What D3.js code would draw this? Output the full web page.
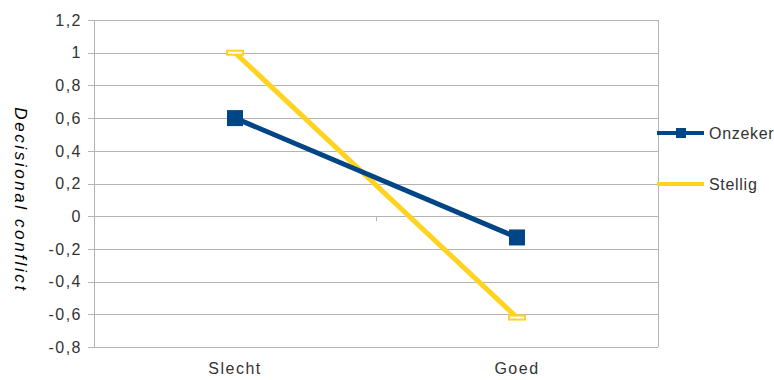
<!DOCTYPE html>
<html>
<head>
<meta charset="utf-8">
<script src="https://cdn.jsdelivr.net/npm/d3@7"></script>
<style>
  body { margin: 0; background: #fff; }
  svg { display: block; font-family: 'Liberation Sans', Arial, sans-serif; }
</style>
</head>
<body>
<div id="chart"></div>
<script>
const categories = ["Slecht", "Goed"]
const onzeker = [0.6, -0.13]
const stellig = [1.0, -0.62]
const yTicks = [-0.8, -0.6, -0.4, -0.2, 0, 0.2, 0.4, 0.6, 0.8, 1, 1.2]

const width = 774, height = 380
const margin = { top: 20, right: 116, bottom: 33, left: 94 }

const svg = d3.select("#chart").append("svg")
  .attr("width", width)
  .attr("height", height)

const x = d3.scaleBand()
  .domain(categories)
  .range([margin.left, width - margin.right])

const y = d3.scaleLinear()
  .domain([-0.8, 1.2])
  .range([height - margin.bottom, margin.top])

const fmt = d => d3.format(".1f")(d).replace(/\.0$/, "").replace(".", ",").replace("−", "-")

// gridlines
svg.append("g")
  .selectAll("line")
  .data(yTicks)
  .join("line")
    .attr("x1", margin.left - 6)
    .attr("x2", width - margin.right)
    .attr("y1", d => Math.round(y(d)) + 0.5)
    .attr("y2", d => Math.round(y(d)) + 0.5)
    .attr("stroke", "#b3b3b3")
    .attr("stroke-width", 1)

// plot frame left and right
svg.append("line")
  .attr("x1", margin.left + 0.5).attr("x2", margin.left + 0.5)
  .attr("y1", y(1.2)).attr("y2", y(-0.8))
  .attr("stroke", "#b3b3b3")
svg.append("line")
  .attr("x1", width - margin.right + 0.5).attr("x2", width - margin.right + 0.5)
  .attr("y1", y(1.2)).attr("y2", y(-0.8))
  .attr("stroke", "#b3b3b3")

// category boundary tick on the zero line
svg.append("line")
  .attr("x1", x("Goed") + 0.5).attr("x2", x("Goed") + 0.5)
  .attr("y1", y(0)).attr("y2", y(0) + 5)
  .attr("stroke", "#b3b3b3")

// y tick labels
svg.append("g")
  .selectAll("text")
  .data(yTicks)
  .join("text")
    .attr("x", margin.left - 12)
    .attr("y", d => y(d))
    .attr("dy", "0.36em")
    .attr("text-anchor", "end")
    .attr("font-size", 16)
    .attr("letter-spacing", 1.5)
    .attr("fill", "#333")
    .text(fmt)

// x labels
svg.append("g")
  .selectAll("text")
  .data(categories)
  .join("text")
    .attr("x", d => x(d) + x.bandwidth() / 2)
    .attr("y", height - 6)
    .attr("text-anchor", "middle")
    .attr("font-size", 16)
    .attr("letter-spacing", 1.5)
    .attr("fill", "#333")
    .text(d => d)

// y title
svg.append("text")
  .attr("transform", `translate(15,200) rotate(90)`)
  .attr("text-anchor", "middle")
  .attr("font-size", 17)
  .attr("letter-spacing", 2.6)
  .attr("font-style", "italic")
  .attr("fill", "#000")
  .text("Decisional conflict")

const cx = d => x(d) + x.bandwidth() / 2
const line = d3.line()
  .x((d, i) => cx(categories[i]))
  .y(d => y(d))

// Stellig
svg.append("path")
  .datum(stellig)
  .attr("fill", "none")
  .attr("stroke", "#ffd320")
  .attr("stroke-width", 5)
  .attr("d", line)
svg.append("g")
  .selectAll("rect")
  .data(stellig)
  .join("rect")
    .attr("x", (d, i) => cx(categories[i]) - 8)
    .attr("y", d => y(d) - 2)
    .attr("width", 16)
    .attr("height", 4)
    .attr("fill", "#fff")
    .attr("stroke", "#ffd320")
    .attr("stroke-width", 2)

// Onzeker
svg.append("path")
  .datum(onzeker)
  .attr("fill", "none")
  .attr("stroke", "#004586")
  .attr("stroke-width", 5)
  .attr("d", line)
svg.append("g")
  .selectAll("rect")
  .data(onzeker)
  .join("rect")
    .attr("x", (d, i) => cx(categories[i]) - 8)
    .attr("y", d => y(d) - 8)
    .attr("width", 16)
    .attr("height", 16)
    .attr("fill", "#004586")

// legend
const legend = [
  { name: "Onzeker", color: "#004586", y: 133, marker: true },
  { name: "Stellig", color: "#ffd320", y: 184, marker: false }
]
const lg = svg.append("g")
  .selectAll("g")
  .data(legend)
  .join("g")
    .attr("transform", d => `translate(657,${d.y})`)
lg.append("line")
  .attr("x1", 0).attr("x2", 47)
  .attr("stroke", d => d.color)
  .attr("stroke-width", 4)
lg.filter(d => d.marker).append("rect")
  .attr("x", 19).attr("y", -5)
  .attr("width", 10).attr("height", 10)
  .attr("fill", d => d.color)
lg.append("text")
  .attr("x", 52)
  .attr("dy", "0.36em")
  .attr("font-size", 16)
  .attr("letter-spacing", 0.7)
  .attr("fill", "#333")
  .text(d => d.name)
</script>
</body>
</html>
